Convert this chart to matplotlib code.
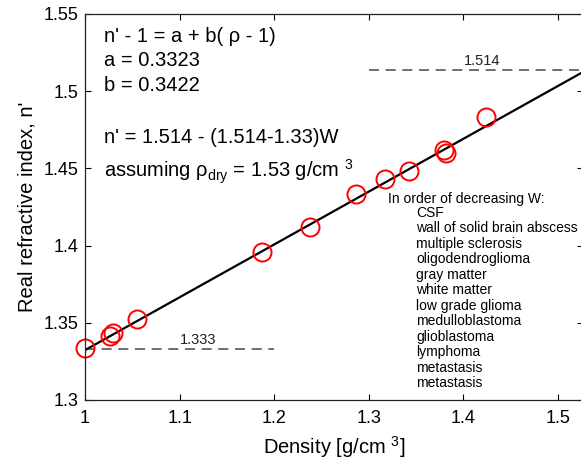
import matplotlib
matplotlib.use('Agg')
import matplotlib.pyplot as plt
import numpy as np

plt.rcParams['font.family'] = ['Liberation Sans', 'DejaVu Sans']
plt.rcParams['mathtext.fontset'] = 'custom'
plt.rcParams['mathtext.rm'] = 'Liberation Sans'
plt.rcParams['mathtext.it'] = 'Liberation Sans'
plt.rcParams['mathtext.bf'] = 'Liberation Sans:bold'

# measured tissues: density [g/cm^3] and real refractive index
density = [1.000, 1.026, 1.030, 1.055, 1.187, 1.238, 1.2865, 1.317,
           1.342, 1.379, 1.382, 1.424]
n_real = [1.3335, 1.3415, 1.3432, 1.3525, 1.3956, 1.4122, 1.4334, 1.4429,
          1.4483, 1.4619, 1.4598, 1.4835]

# fit n' - 1 = a + b(rho - 1)
a = 0.3323
b = 0.3422
fit_x = np.array([1.0, 1.53])

n_water = 1.333
n_dry = 1.514
water_span = [1.0, 1.2]
dry_span = [1.3, 1.53]

tissues = ['CSF', 'wall of solid brain abscess', 'multiple sclerosis',
           'oligodendroglioma', 'gray matter', 'white matter',
           'low grade glioma', 'medulloblastoma', 'glioblastoma',
           'lymphoma', 'metastasis', 'metastasis']

xticks = [1.0, 1.1, 1.2, 1.3, 1.4, 1.5]
xticklabels = ['1', '1.1', '1.2', '1.3', '1.4', '1.5']
yticks = [1.3, 1.35, 1.4, 1.45, 1.5, 1.55]
yticklabels = ['1.3', '1.35', '1.4', '1.45', '1.5', '1.55']

fig = plt.figure(figsize=(5.81, 4.63), dpi=100)
ax = fig.add_axes([85 / 581, 63 / 463, 498 / 581, 386 / 463])

ax.plot(water_span, [n_water, n_water], color='#555555', lw=1.2,
        dashes=(6, 4))
ax.plot(dry_span, [n_dry, n_dry], color='#555555', lw=1.2, dashes=(6, 4))
ax.text(1.12, n_water + 0.0013, '1.333', ha='center', va='bottom',
        fontsize=10.5, color='#222222')
ax.text(1.42, n_dry + 0.0013, '1.514', ha='center', va='bottom',
        fontsize=10.5, color='#222222')

ax.plot(fit_x, 1 + a + b * (fit_x - 1), color='black', lw=1.6)
ax.plot(density, n_real, 'o', ms=13, mfc='none', mec='red', mew=1.4,
        clip_on=False)

fs = 14.5
ax.text(1.02, 1.5357, "n' - 1 = a + b( ρ - 1)", fontsize=fs, va='center')
ax.text(1.02, 1.5202, 'a = 0.3323', fontsize=fs, va='center')
ax.text(1.02, 1.5040, 'b = 0.3422', fontsize=fs, va='center')
ax.text(1.02, 1.4697, "n' = 1.514 - (1.514-1.33)W", fontsize=fs, va='center')
ax.text(1.02, 1.4477, r'assuming $\rho_{\mathrm{dry}}$ = 1.53 g/cm $^{3}$',
        fontsize=fs, va='center')

ax.text(1.3203, 1.4302, 'In order of decreasing W:', fontsize=10,
        va='center')
for i, name in enumerate(tissues):
    ax.text(1.35, 1.4213 - i * 0.01003, name, fontsize=10, va='center')

ax.set_xlim(1.0, 1.0 + 498 / 946)
ax.set_ylim(1.3, 1.55)
ax.set_xticks(xticks)
ax.set_xticklabels(xticklabels)
ax.set_yticks(yticks)
ax.set_yticklabels(yticklabels)
ax.tick_params(direction='in', length=4, width=0.8, top=True, right=True,
               labelsize=13)
ax.tick_params(axis='x', pad=7)
ax.tick_params(axis='y', pad=5)
for s in ax.spines.values():
    s.set_linewidth(0.9)
    s.set_color('#222222')

ax.set_xlabel(r'Density [g/cm $^{3}$]', fontsize=14.5, labelpad=5)
ax.set_ylabel("Real refractive index, n'", fontsize=14.5, labelpad=5)

fig.savefig('out.png', dpi=100)
